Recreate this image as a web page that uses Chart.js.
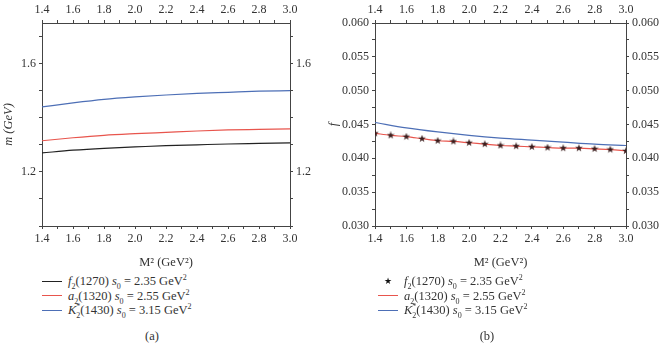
<!DOCTYPE html>
<html>
<head>
<meta charset="utf-8">
<script src="https://cdn.jsdelivr.net/npm/chart.js@4.4.1/dist/chart.umd.min.js"></script>
<style>
body{margin:0;background:#fff;width:665px;height:344px;position:relative;overflow:hidden;font-family:"Liberation Serif",serif;color:#333}
.panel{position:absolute;top:0;height:270px}
.legend{position:absolute;top:274px;font-size:12.5px;line-height:14.5px}
.row{display:flex;align-items:center;height:14.5px;white-space:nowrap}
.sw{width:20px;margin-right:6px;text-align:center;font-size:9px}
.ln{display:block;height:0;border-top:1.3px solid}
i{font-style:italic}
sub,sup{font-size:8px;line-height:0}
.cap{position:absolute;top:329px;font-size:12.5px;transform:translateX(-50%)}
</style>
</head>
<body>
<div class="panel" style="left:0;width:330px"><canvas id="ca"></canvas></div>
<div class="panel" style="left:325px;width:340px"><canvas id="cb"></canvas></div>
<div class="legend" id="la" style="left:42px"></div>
<div class="legend" id="lb" style="left:378px"></div>
<div class="cap" style="left:152px">(a)</div>
<div class="cap" style="left:487px">(b)</div>
<script>
// panel (a): mass vs Borel parameter
const mX = [1.4, 1.6, 1.8, 2.0, 2.2, 2.4, 2.6, 2.8, 3.0];
const mF2 = [1.270, 1.280, 1.287, 1.292, 1.297, 1.300, 1.303, 1.305, 1.307];
const mA2 = [1.315, 1.326, 1.335, 1.341, 1.346, 1.351, 1.355, 1.357, 1.359];
const mK2 = [1.440, 1.455, 1.468, 1.477, 1.484, 1.490, 1.494, 1.498, 1.500];

// panel (b): decay constant
const fX = [1.4, 1.5, 1.6, 1.7, 1.8, 1.9, 2.0, 2.1, 2.2, 2.3, 2.4, 2.5, 2.6, 2.7, 2.8, 2.9, 3.0];
const fF2 = [0.0437, 0.0434, 0.0432, 0.0429, 0.0426, 0.0425, 0.0423, 0.0421, 0.0419, 0.0418, 0.0417, 0.0416, 0.0415, 0.0415, 0.0414, 0.0413, 0.0411];
const fA2 = [0.0437, 0.0434, 0.0432, 0.0429, 0.0426, 0.0425, 0.0423, 0.0421, 0.0419, 0.0418, 0.0417, 0.0416, 0.0415, 0.0415, 0.0414, 0.0413, 0.0411];
const fKX = [1.4, 1.6, 1.8, 2.0, 2.2, 2.4, 2.6, 2.8, 3.0];
const fK2 = [0.0453, 0.0445, 0.0439, 0.0434, 0.0430, 0.0427, 0.0424, 0.0421, 0.0419];

const names = [
  '<i>f</i><sub>2</sub>(1270) <i>s</i><sub>0</sub> = 2.35 GeV<sup>2</sup>',
  '<i>a</i><sub>2</sub>(1320) <i>s</i><sub>0</sub> = 2.55 GeV<sup>2</sup>',
  '<i>K</i><sup>*</sup><sub style="margin-left:-4px">2</sub>(1430) <i>s</i><sub>0</sub> = 3.15 GeV<sup>2</sup>'
];
const colBlack = '#222', colRed = '#e8554d', colBlue = '#4d6fb6', colStar = '#3a1c1c';

Chart.defaults.font.family = '"Liberation Serif", serif';
Chart.defaults.font.size = 12;
Chart.defaults.color = '#333';

const pts = (xs, ys) => xs.map((x, i) => ({x: x, y: ys[i]}));

function starImg(c) {
  const cv = document.createElement('canvas');
  cv.width = cv.height = 8;
  const g = cv.getContext('2d');
  g.fillStyle = c;
  g.beginPath();
  for (let k = 0; k < 10; k++) {
    const r = k % 2 ? 1.6 : 4;
    const a = -Math.PI / 2 + k * Math.PI / 5;
    g.lineTo(4 + r * Math.cos(a), 4 + r * Math.sin(a));
  }
  g.closePath();
  g.fill();
  return cv;
}

function axis(pos, min, max, step, label, size, extra) {
  const horiz = pos === 'top' || pos === 'bottom';
  return Object.assign({
    type: 'linear', position: pos, min: min, max: max,
    grid: {drawOnChartArea: false, tickLength: 3, color: '#444'},
    border: {color: '#444', width: 1},
    ticks: {stepSize: step, includeBounds: false, autoSkip: false, maxRotation: 0, padding: 3, callback: label},
    afterFit: s => { if (horiz) s.height = size; else s.width = size; }
  }, extra || {});
}

const xLab = (v, i) => i % 2 === 0 ? v.toFixed(1) : '';
const mLab = v => (Math.abs(v - 1.2) < 1e-6 || Math.abs(v - 1.6) < 1e-6) ? v.toFixed(1) : '';
const fLab = (v, i) => i % 2 === 0 ? v.toFixed(3) : '';
const xTitle = {display: true, text: 'M² (GeV²)', font: {size: 12.5}, padding: {top: 3, bottom: 0}};

function line(data, color) {
  return {data: data, borderColor: color, borderWidth: 1.2, pointRadius: 0, showLine: true,
    cubicInterpolationMode: 'monotone', xAxisID: 'x', yAxisID: 'y'};
}

new Chart(document.getElementById('ca'), {
  type: 'scatter',
  data: {datasets: [
    line(pts(mX, mF2), colBlack),
    line(pts(mX, mA2), colRed),
    line(pts(mX, mK2), colBlue)
  ]},
  options: {
    animation: false, responsive: true, maintainAspectRatio: false,
    layout: {padding: 0},
    plugins: {legend: {display: false}, tooltip: {enabled: false}},
    scales: {
      x: axis('bottom', 1.4, 3.0, 0.1, xLab, 44, {title: xTitle}),
      x2: axis('top', 1.4, 3.0, 0.1, xLab, 23),
      y: axis('left', 1.0, 1.75, 0.1, mLab, 42, {title: {display: true, text: 'm (GeV)', font: {size: 12.5, style: 'italic'}, padding: {top: 1, bottom: 0}}}),
      y2: axis('right', 1.0, 1.75, 0.1, mLab, 40)
    }
  }
});

new Chart(document.getElementById('cb'), {
  type: 'scatter',
  data: {datasets: [
    {data: pts(fX, fF2), showLine: false, pointStyle: starImg(colStar), pointRadius: 4, xAxisID: 'x', yAxisID: 'y'},
    line(pts(fX, fA2), colRed),
    line(pts(fKX, fK2), colBlue)
  ]},
  options: {
    animation: false, responsive: true, maintainAspectRatio: false,
    layout: {padding: 0},
    plugins: {legend: {display: false}, tooltip: {enabled: false}},
    scales: {
      x: axis('bottom', 1.4, 3.0, 0.1, xLab, 44, {title: xTitle}),
      x2: axis('top', 1.4, 3.0, 0.1, xLab, 23),
      y: axis('left', 0.03, 0.06, 0.0025, fLab, 50, {title: {display: true, text: 'f', font: {size: 12.5, style: 'italic'}, padding: {top: 1, bottom: 0}}}),
      y2: axis('right', 0.03, 0.06, 0.0025, fLab, 39)
    }
  }
});

// legends
const swA = [colBlack, colRed, colBlue];
document.getElementById('la').innerHTML = names.map((n, i) =>
  '<div class="row"><span class="sw"><span class="ln" style="border-color:' + swA[i] + '"></span></span><span>' + n + '</span></div>').join('');
document.getElementById('lb').innerHTML = names.map((n, i) =>
  '<div class="row"><span class="sw">' + (i === 0 ? '<span style="color:#111">★</span>' : '<span class="ln" style="border-color:' + swA[i] + '"></span>') + '</span><span>' + n + '</span></div>').join('');
</script>
</body>
</html>
